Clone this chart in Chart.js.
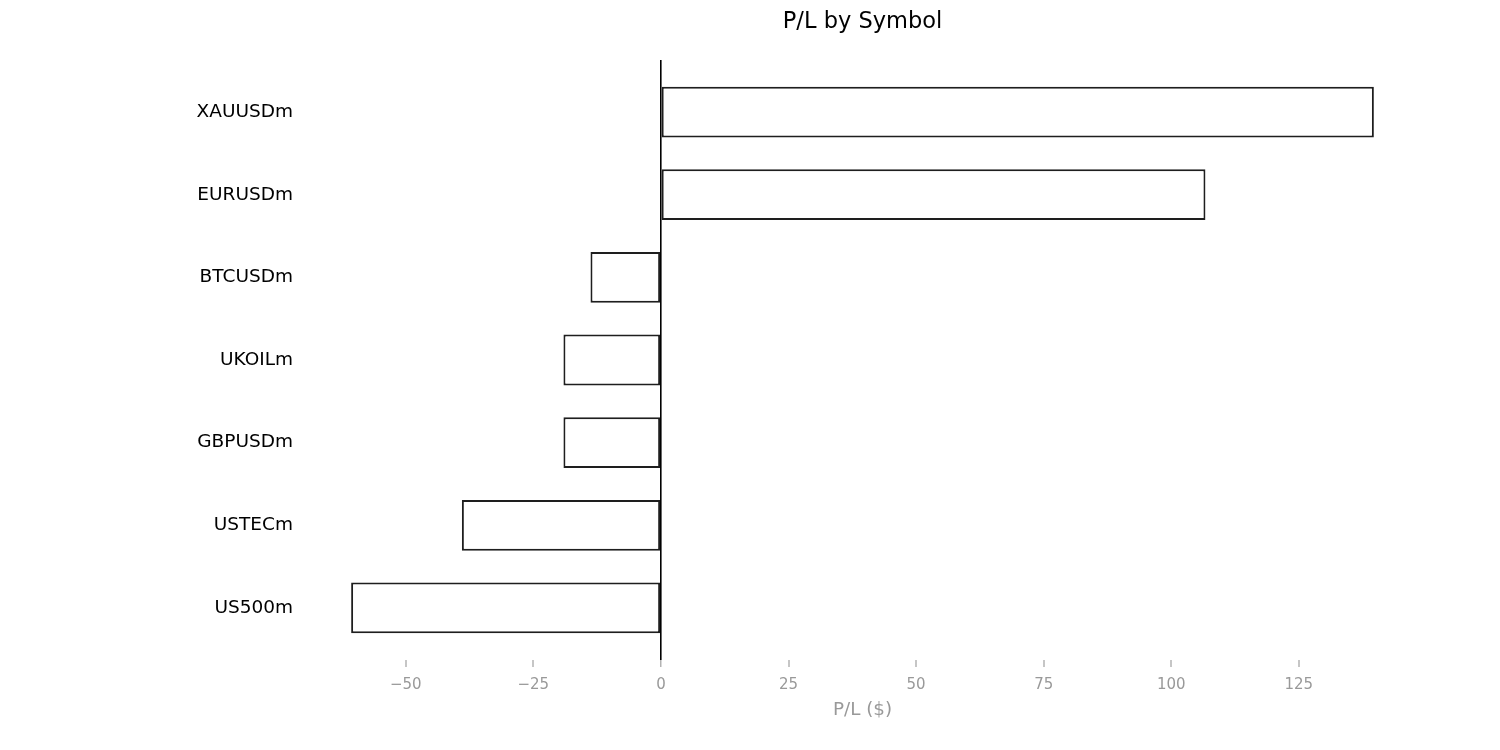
<!DOCTYPE html>
<html><head><meta charset="utf-8">
<script src="https://cdn.jsdelivr.net/npm/chart.js@4.4.0/dist/chart.umd.min.js"></script>
<style>html,body{margin:0;padding:0;background:#fff}canvas{display:block}</style>
</head><body>
<canvas id="c" width="1500" height="750" style="width:1500px;height:750px"></canvas>
<script>
// Categories listed bottom to top
const symbols = ['US500m', 'USTECm', 'GBPUSDm', 'UKOILm', 'BTCUSDm', 'EURUSDm', 'XAUUSDm'];
const pnl = [-60.7, -39.0, -19.1, -19.1, -13.8, 106.7, 139.7];
const xTicks = [-50, -25, 0, 25, 50, 75, 100, 125];
const chartTitle = 'P/L by Symbol';
const xTitle = 'P/L ($)';

const lo = Math.min(0, ...pnl), hi = Math.max(0, ...pnl);
const pad = 0.05 * (hi - lo);
const FONT = 'DejaVu Sans';

// Title centred over the plot area (as in the reference)
const centredTitle = {
  id: 'centredTitle',
  afterDraw(chart) {
    const { ctx, chartArea } = chart;
    ctx.save();
    ctx.font = '22.5px "' + FONT + '"';
    ctx.fillStyle = '#000';
    ctx.textAlign = 'center';
    ctx.textBaseline = 'middle';
    ctx.fillText(chartTitle, (chartArea.left + chartArea.right) / 2, 22);
    ctx.restore();
  }
};

new Chart(document.getElementById('c'), {
  type: 'bar',
  data: {
    datasets: [{
      data: symbols.map((s, i) => ({ x: pnl[i], y: i })),
      backgroundColor: '#ffffff',
      borderColor: '#1e1e1e',
      borderWidth: 2,
      borderSkipped: false,
      categoryPercentage: 1,
      barPercentage: 0.615
    }]
  },
  plugins: [centredTitle],
  options: {
    indexAxis: 'y',
    responsive: false,
    animation: false,
    devicePixelRatio: 1,
    layout: { padding: { left: 0, right: 75, top: 60, bottom: 0 } },
    plugins: {
      legend: { display: false },
      tooltip: { enabled: false },
      title: { display: false }
    },
    scales: {
      x: {
        type: 'linear', min: lo - pad, max: hi + pad,
        afterBuildTicks: s => { s.ticks = xTicks.map(v => ({ value: v })); },
        afterFit: s => { s.height = 90; },
        grid: {
          display: true, drawOnChartArea: true, drawTicks: true,
          tickLength: 7, tickColor: '#a0a0a0', tickWidth: 1.2,
          color: c => (c.tick && c.tick.value === 0) ? '#000' : 'rgba(0,0,0,0)',
          lineWidth: c => (c.tick && c.tick.value === 0) ? 1.6 : 0
        },
        border: { display: false },
        ticks: {
          color: '#999', font: { family: FONT, size: 15 }, padding: 9,
          maxRotation: 0, autoSkip: false,
          callback: v => v < 0 ? '\u2212' + Math.abs(v) : String(v)
        },
        title: {
          display: true, text: xTitle, color: '#999',
          font: { family: FONT, size: 18.3 }, padding: { top: 4, bottom: 29 }
        }
      },
      y: {
        type: 'linear', min: -0.63, max: 6.63, offset: false,
        afterBuildTicks: s => { s.ticks = symbols.map((_, i) => ({ value: i })); },
        afterFit: s => { s.width = 300; },
        grid: { display: false, drawTicks: false, offset: false },
        border: { display: false },
        ticks: {
          color: '#000', font: { family: FONT, size: 18.5 }, padding: 7, autoSkip: false,
          callback: v => symbols[v] !== undefined ? symbols[v] : ''
        }
      }
    }
  }
});
</script>
</body></html>
